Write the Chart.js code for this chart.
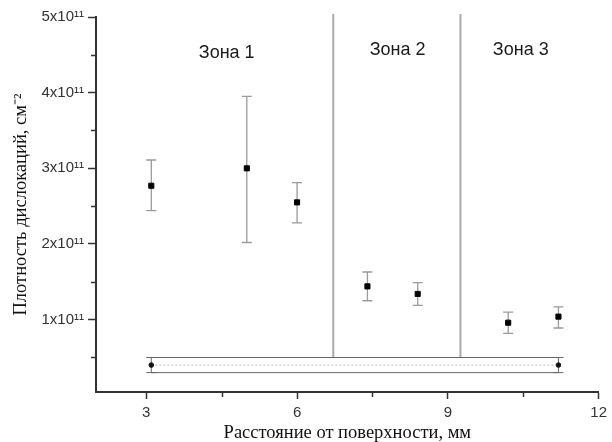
<!DOCTYPE html>
<html>
<head>
<meta charset="utf-8">
<script src="https://cdn.jsdelivr.net/npm/chart.js@4"></script>
<style>
  html, body { margin: 0; padding: 0; background: #fff; }
  #wrap { width: 612px; height: 442px; position: relative; }
</style>
</head>
<body>
<div id="wrap"><canvas id="chart"></canvas></div>
<script>
/* ──────── DATA ──────── */

// measured points, dislocation density (cm^-2) vs distance (mm)
const distX   = [3.1, 5.0, 6.0, 7.4, 8.4, 10.2, 11.2];
const density = [2.77e11, 3.0e11, 2.55e11, 1.44e11, 1.34e11, 0.96e11, 1.04e11];
const errHigh = [3.11e11, 3.95e11, 2.81e11, 1.63e11, 1.49e11, 1.10e11, 1.17e11];
const errLow  = [2.44e11, 2.02e11, 2.28e11, 1.25e11, 1.19e11, 0.82e11, 0.89e11];

// reference band along the bottom
const bandX    = [3.1, 11.2];
const bandMid  = [0.4e11, 0.4e11];
const bandHigh = [0.5e11, 0.5e11];
const bandLow  = [0.3e11, 0.3e11];

// zone borders and captions
const zoneBorders = [6.72, 9.25];
const zoneBorderSpan = [0.5e11, 5.04e11];
const zoneNames = ['Зона 1', 'Зона 2', 'Зона 3'];
const zoneNameX = [4.6, 8.0, 10.45];
const zoneNameY = [4.52e11, 4.57e11, 4.57e11];

// axes
const xTicks = [3, 6, 9, 12];
const xMinor = [4.5, 7.5, 10.5];
const yTicks = [1e11, 2e11, 3e11, 4e11, 5e11];
const yTickLabels = ['1x10¹¹', '2x10¹¹', '3x10¹¹', '4x10¹¹', '5x10¹¹'];
const yMinor = [0.5e11, 1.5e11, 2.5e11, 3.5e11, 4.5e11];

/* ──────── STYLE ──────── */

const AXIS = '#333';
const ERR = '#9a9a9a';
const SANS = '"Liberation Sans", Arial, sans-serif';
const SERIF = '"Liberation Serif", "Times New Roman", serif';

/* ──────── PLUGIN: error bars, minor ticks, zone captions ──────── */

function drawErrBar(ctx, xs, ys, x, lo, hi) {
  const px = xs.getPixelForValue(x);
  const y1 = ys.getPixelForValue(lo);
  const y2 = ys.getPixelForValue(hi);
  ctx.beginPath();
  ctx.moveTo(px, y1); ctx.lineTo(px, y2);
  ctx.moveTo(px - 5, y1); ctx.lineTo(px + 5, y1);
  ctx.moveTo(px - 5, y2); ctx.lineTo(px + 5, y2);
  ctx.stroke();
}

const extras = {
  id: 'extras',
  beforeDatasetsDraw(chart) {
    const { ctx, scales: { x, y } } = chart;
    ctx.save();
    ctx.strokeStyle = ERR;
    ctx.lineWidth = 1.3;
    distX.forEach((v, i) => drawErrBar(ctx, x, y, v, errLow[i], errHigh[i]));
    ctx.strokeStyle = '#666';
    ctx.lineWidth = 1;
    bandX.forEach((v, i) => drawErrBar(ctx, x, y, v, bandLow[i], bandHigh[i]));
    ctx.restore();
  },
  afterDraw(chart) {
    const { ctx, scales: { x, y } } = chart;
    ctx.save();
    ctx.strokeStyle = AXIS;
    ctx.lineWidth = 1.5;
    ctx.beginPath();
    yMinor.forEach(v => {
      const py = Math.round(y.getPixelForValue(v)) + 0.5;
      ctx.moveTo(y.right - 5, py); ctx.lineTo(y.right, py);
    });
    xMinor.forEach(v => {
      const px = Math.round(x.getPixelForValue(v)) + 0.5;
      ctx.moveTo(px, x.top); ctx.lineTo(px, x.top + 5);
    });
    ctx.stroke();

    ctx.fillStyle = '#1a1a1a';
    ctx.font = '18px ' + SANS;
    ctx.textAlign = 'center';
    ctx.textBaseline = 'middle';
    zoneNames.forEach((t, i) => {
      ctx.fillText(t, x.getPixelForValue(zoneNameX[i]), y.getPixelForValue(zoneNameY[i]));
    });
    ctx.restore();
  }
};

/* ──────── DATASETS ──────── */

const pts = (xs, ys) => xs.map((v, i) => ({ x: v, y: ys[i] }));

const datasets = [
  {
    data: pts(distX, density),
    showLine: false,
    pointStyle: 'rect',
    pointRadius: 3.6,
    pointBorderWidth: 1,
    backgroundColor: '#000',
    borderColor: '#000',
  },
  {
    data: pts(bandX, bandMid),
    showLine: true,
    borderColor: '#bbb',
    borderWidth: 1,
    borderDash: [2, 2],
    pointStyle: 'circle',
    pointRadius: 2.3,
    pointBorderWidth: 1,
    backgroundColor: '#111',
    pointBorderColor: '#111',
  },
  {
    data: pts(bandX, bandHigh),
    showLine: true, borderColor: '#666', borderWidth: 1, pointRadius: 0,
  },
  {
    data: pts(bandX, bandLow),
    showLine: true, borderColor: '#666', borderWidth: 1, pointRadius: 0,
  },
  ...zoneBorders.map(b => ({
    data: zoneBorderSpan.map(v => ({ x: b, y: v })),
    showLine: true, borderColor: '#aaa', borderWidth: 2, pointRadius: 0, clip: false,
  })),
];

/* ──────── CHART ──────── */

new Chart(document.getElementById('chart'), {
  type: 'scatter',
  data: { datasets },
  plugins: [extras],
  options: {
    responsive: true,
    maintainAspectRatio: false,
    animation: false,
    events: [],
    layout: { padding: { left: 0, right: 8, top: 17, bottom: 0 } },
    plugins: { legend: { display: false }, tooltip: { enabled: false } },
    scales: {
      x: {
        type: 'linear',
        min: 2, max: 12,
        afterBuildTicks: s => { s.ticks = xTicks.map(v => ({ value: v })); },
        afterFit: s => { s.height = 50; },
        border: { color: AXIS, width: 2 },
        grid: { drawOnChartArea: false, tickLength: 7, tickColor: AXIS, tickWidth: 1.5 },
        ticks: { color: '#333', font: { family: SANS, size: 15 }, padding: 5, maxRotation: 0 },
        title: {
          display: true,
          text: 'Расстояние от поверхности, мм',
          color: '#111',
          font: { family: SERIF, size: 18.5 },
          padding: { top: 0, bottom: -2.5 },
        },
      },
      y: {
        type: 'linear',
        min: 0.044e11, max: 5e11,
        afterBuildTicks: s => { s.ticks = yTicks.map(v => ({ value: v })); },
        afterFit: s => { s.width = 96; },
        border: { color: AXIS, width: 2 },
        grid: { drawOnChartArea: false, tickLength: 8, tickColor: AXIS, tickWidth: 1.5 },
        ticks: {
          color: '#333',
          font: { family: SANS, size: 15 },
          padding: 4,
          callback: (v, i) => yTickLabels[i],
        },
        title: {
          display: true,
          text: 'Плотность дислокаций, см⁻²',
          color: '#111',
          font: { family: SERIF, size: 18.5 },
          padding: { top: 10, bottom: 0 },
        },
      },
    },
  },
});
</script>
</body>
</html>
